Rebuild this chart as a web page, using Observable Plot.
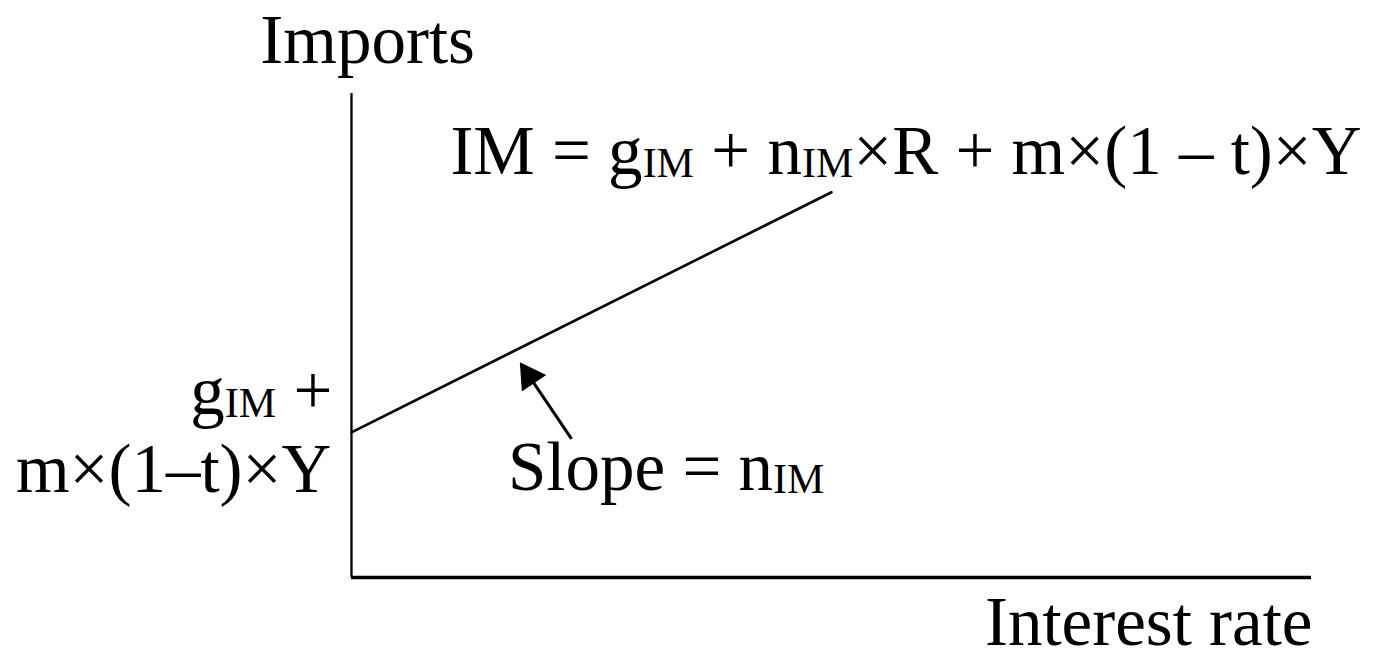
<!DOCTYPE html>
<html>
<head>
<meta charset="utf-8">
<script src="https://cdn.jsdelivr.net/npm/d3@7"></script>
<script src="https://cdn.jsdelivr.net/npm/@observablehq/plot@0.6"></script>
<style>
  html, body { margin: 0; padding: 0; background: #ffffff; }
  svg text { white-space: pre; }
</style>
</head>
<body>
<div id="chart"></div>
<script>
// Import function line: intercept at R = 0, then rising with slope n_IM
const lineR = [0, 50];
const lineIM = [30, 79.6];

// Slope annotation arrow (tail -> head)
const arrowTail = {x: 22.92, y: 28.66};
const arrowHead = {x: 18.52, y: 41.57};

// Text labels (markup _{...} = subscript)
const labelText = [
  "Imports",
  "IM = g_{IM} + n_{IM}×R + m×(1 – t)×Y",
  "Slope = n_{IM}",
  "g_{IM} +",
  "m×(1–t)×Y",
  "Interest rate"
];
const labelX = [-9.5, 10.3, 16.3, -2.0, -2.1, 100.1];
const labelY = [106.4, 83.4, 18.0, 33.7, 17.6, -13.9];
const labelAnchor = ["start", "start", "start", "end", "end", "end"];

const FONT = "'Liberation Serif', 'Times New Roman', serif";
const FS = 69;
const SUB_FS = 42;

const lineData = lineR.map((r, i) => ({r, im: lineIM[i]}));
const labels = labelText.map((t, i) => ({t, x: labelX[i], y: labelY[i], a: labelAnchor[i]}));

const chart = Plot.plot({
  width: 1375,
  height: 659,
  marginLeft: 351,
  marginRight: 64,
  marginTop: 93,
  marginBottom: 82,
  x: {domain: [0, 100], axis: null},
  y: {domain: [0, 100], axis: null},
  style: {background: "#ffffff", overflow: "visible", fontFamily: FONT},
  marks: [
    Plot.ruleX([0], {y1: 0, y2: 100, stroke: "black", strokeWidth: 2.3}),
    Plot.ruleY([0], {x1: 0, x2: 100, stroke: "black", strokeWidth: 3.3}),
    Plot.line(lineData, {x: "r", y: "im", stroke: "black", strokeWidth: 2.6}),
    Plot.link([{x1: arrowTail.x, y1: arrowTail.y, x2: arrowHead.x, y2: arrowHead.y}],
      {x1: "x1", y1: "y1", x2: "x2", y2: "y2", stroke: "black", strokeWidth: 3}),
    Plot.dot([arrowHead], {x: "x", y: "y", symbol: "triangle", r: 10.9, rotate: -34, fill: "black", stroke: "none"}),
    ...labels.map(d => Plot.text([d], {
      x: "x", y: "y", text: "t", textAnchor: d.a, lineAnchor: "bottom",
      fontSize: FS, fill: "black", fontFamily: FONT
    }))
  ]
});

// Convert _{...} markup into subscript tspans
chart.querySelectorAll("text").forEach(t => {
  const s = t.textContent;
  if (!s.includes("_{")) return;
  const parts = s.split(/(_\{[^}]*\})/).filter(p => p.length);
  t.textContent = "";
  let inSub = false;
  for (const p of parts) {
    const ts = document.createElementNS("http://www.w3.org/2000/svg", "tspan");
    if (p.startsWith("_{")) {
      ts.textContent = p.slice(2, -1);
      ts.setAttribute("font-size", SUB_FS);
      ts.setAttribute("dy", 3);
      inSub = true;
    } else {
      ts.textContent = p;
      if (inSub) { ts.setAttribute("dy", -3); inSub = false; }
    }
    t.appendChild(ts);
  }
});

document.getElementById("chart").appendChild(chart);
</script>
</body>
</html>
